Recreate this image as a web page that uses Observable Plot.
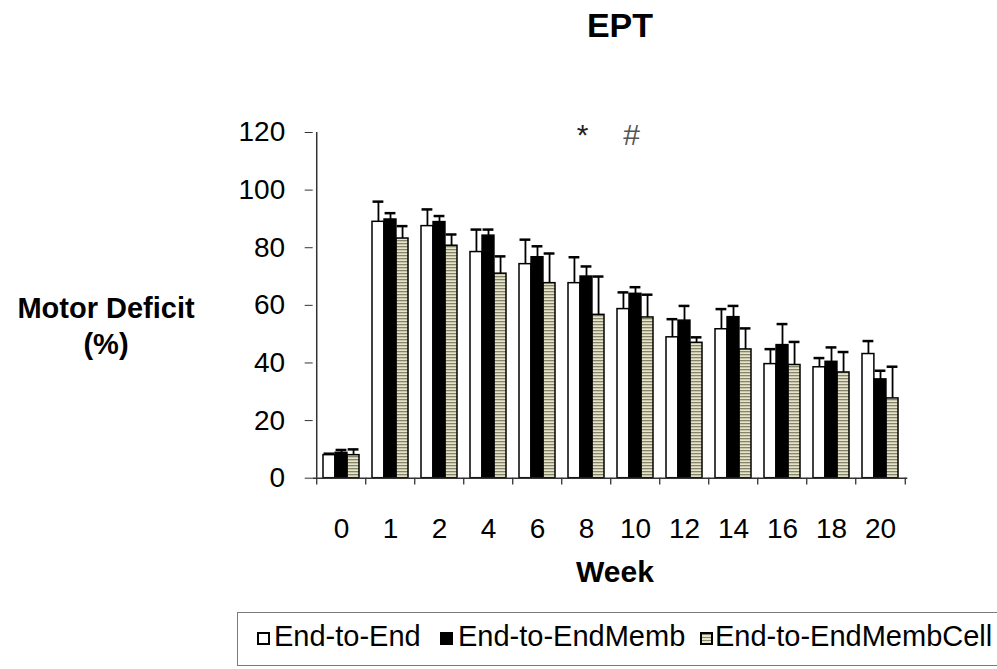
<!DOCTYPE html>
<html>
<head>
<meta charset="utf-8">
<script src="https://cdn.jsdelivr.net/npm/d3@7"></script>
<script src="https://cdn.jsdelivr.net/npm/@observablehq/plot@0.6"></script>
<style>
  html, body { margin: 0; padding: 0; background: #fff; }
  #wrap { position: relative; width: 997px; height: 669px; overflow: hidden; font-family: "Liberation Sans", Arial, sans-serif; color: #000; }
  .lbl { position: absolute; white-space: nowrap; line-height: 1; }
  #legend { position: absolute; left: 237px; top: 612px; width: 780px; height: 54px; border: 1.5px solid #7a7a7a; box-sizing: border-box; }
  .sw { position: absolute; width: 13px; height: 13px; border: 2px solid #000; top: 19px; box-sizing: border-box; }
  .lt { position: absolute; top: 9px; font-size: 29px; line-height: 1; }
</style>
</head>
<body>
<div id="wrap">
  <div id="chart"></div>
  <div class="lbl" id="title" style="left:620px; top:8px; transform:translateX(-50%); font-size:34px; font-weight:bold;">EPT</div>
  <div class="lbl" style="left:106px; top:290px; transform:translateX(-50%); font-size:29px; font-weight:bold; text-align:center; line-height:36px;">Motor Deficit<br>(%)</div>
  <div class="lbl" style="left:615px; top:557px; transform:translateX(-50%); font-size:30px; font-weight:bold;">Week</div>
  <div id="legend"></div>
</div>
<script>
const weeks = ["0","1","2","4","6","8","10","12","14","16","18","20"];
const seriesNames = ["End-to-End", "End-to-EndMemb", "End-to-EndMembCell"];
const endToEnd      = [8.0, 89.0, 87.5, 78.5, 74.3, 67.7, 58.7, 48.9, 51.7, 39.6, 38.5, 43.1];
const endToEndErr   = [0.5, 7.0, 5.8, 7.8, 8.5, 9.0, 5.8, 6.3, 7.0, 5.2, 3.2, 4.5];
const memb          = [8.8, 89.8, 88.9, 84.2, 76.7, 70.0, 64.0, 54.7, 55.9, 46.2, 40.4, 34.3];
const membErr       = [1.0, 2.2, 2.1, 2.1, 3.8, 3.5, 2.3, 5.1, 3.9, 7.3, 5.0, 3.0];
const membCell      = [8.0, 83.2, 80.7, 71.0, 67.7, 56.7, 55.8, 47.0, 44.7, 39.3, 36.7, 27.7];
const membCellErr   = [2.0, 4.3, 3.9, 6.0, 10.3, 13.3, 7.9, 1.9, 7.3, 8.0, 7.1, 11.0];
const yTicks = [0, 20, 40, 60, 80, 100, 120];
const annotWeeks = ["8", "10"];
const annotLabels = ["*", "#"];

const values = [endToEnd, memb, membCell];
const errors = [endToEndErr, membErr, membCellErr];
const fills = ["white", "black", "url(#hstripe)"];

const W = 997, H = 669;
const mL = 312.7, mR = 89.7, mT = 132, mB = 191.3;
const pInner = 0.27, pOuter = 0.135;
const step = (W - mL - mR) / (weeks.length - pInner + 2 * pOuter);
const bw = step * (1 - pInner);
const barW = bw / 3;
const capW = 11;

const rows = values.map((vals, i) => weeks.map((w, j) => ({week: w, value: vals[j], err: errors[i][j], s: i})));

const marks = [];
rows.forEach((data, i) => {
  marks.push(Plot.barY(data, {x: "week", y: "value", fill: fills[i], stroke: "black", strokeWidth: 1.5,
    insetLeft: i * barW, insetRight: (2 - i) * barW}));
});
rows.forEach((data, i) => {
  marks.push(Plot.ruleX(data, {x: "week", y1: "value", y2: d => d.value + d.err, dx: (i - 1) * barW, stroke: "black", strokeWidth: 1.8}));
  marks.push(Plot.tickY(data, {x: "week", y: d => d.value + d.err, stroke: "black", strokeWidth: 2.5,
    insetLeft: i * barW + barW / 2 - capW / 2, insetRight: bw - (i * barW + barW / 2 + capW / 2)}));
});
// axis lines
marks.push(Plot.ruleY([0], {stroke: "#333", strokeWidth: 1.5}));
marks.push(Plot.ruleX([weeks[0]], {x: d => d, y1: 0, y2: 120, dx: -step / 2, stroke: "#333", strokeWidth: 1.5}));
// x boundary ticks
marks.push(Plot.ruleX(weeks, {x: d => d, y1: 0, y2: -2.4, dx: -step / 2, stroke: "#333", strokeWidth: 1.3}));
marks.push(Plot.ruleX([weeks[weeks.length - 1]], {x: d => d, y1: 0, y2: -2.4, dx: step / 2, stroke: "#333", strokeWidth: 1.3}));
// axes
marks.push(Plot.axisY({ticks: yTicks, tickSize: 8, tickPadding: 20, fontSize: 28, label: null, stroke: "#333"}));
marks.push(Plot.axisX({tickSize: 0, tickPadding: 40, fontSize: 28, label: null}));
// annotations
marks.push(Plot.text(annotWeeks.map((w, k) => ({week: w, t: annotLabels[k]})), {
  x: "week", y: 119, text: "t", dx: -4, fontSize: 30, fill: (d) => d.t === "#" ? "#555" : "#222"
}));

const svg = Plot.plot({
  width: W, height: H,
  marginLeft: mL, marginRight: mR, marginTop: mT, marginBottom: mB,
  style: {fontFamily: '"Liberation Sans", Arial, sans-serif', fontSize: "28px", color: "#000", background: "white"},
  x: {type: "band", domain: weeks, paddingInner: pInner, paddingOuter: pOuter, align: 0.5},
  y: {domain: [0, 120]},
  marks
});

d3.select(svg).insert("defs", ":first-child").html(`
  <pattern id="hstripe" patternUnits="userSpaceOnUse" width="4" height="3">
    <rect width="4" height="3" fill="#e6e5cc"></rect>
    <rect width="4" height="1.3" fill="#858468"></rect>
  </pattern>`);
document.getElementById("chart").appendChild(svg);

// legend
const legend = document.getElementById("legend");
const swX = [19, 202, 462];
const txX = [36, 220, 477];
seriesNames.forEach((name, i) => {
  const sw = document.createElement("div");
  sw.className = "sw";
  sw.style.left = swX[i] + "px";
  sw.style.background = i === 0 ? "white" : (i === 1 ? "black" : "repeating-linear-gradient(180deg, #858468 0 1.3px, #e6e5cc 1.3px 3px)");
  legend.appendChild(sw);
  const t = document.createElement("div");
  t.className = "lt";
  t.style.left = txX[i] + "px";
  t.textContent = name;
  legend.appendChild(t);
});
</script>
</body>
</html>
